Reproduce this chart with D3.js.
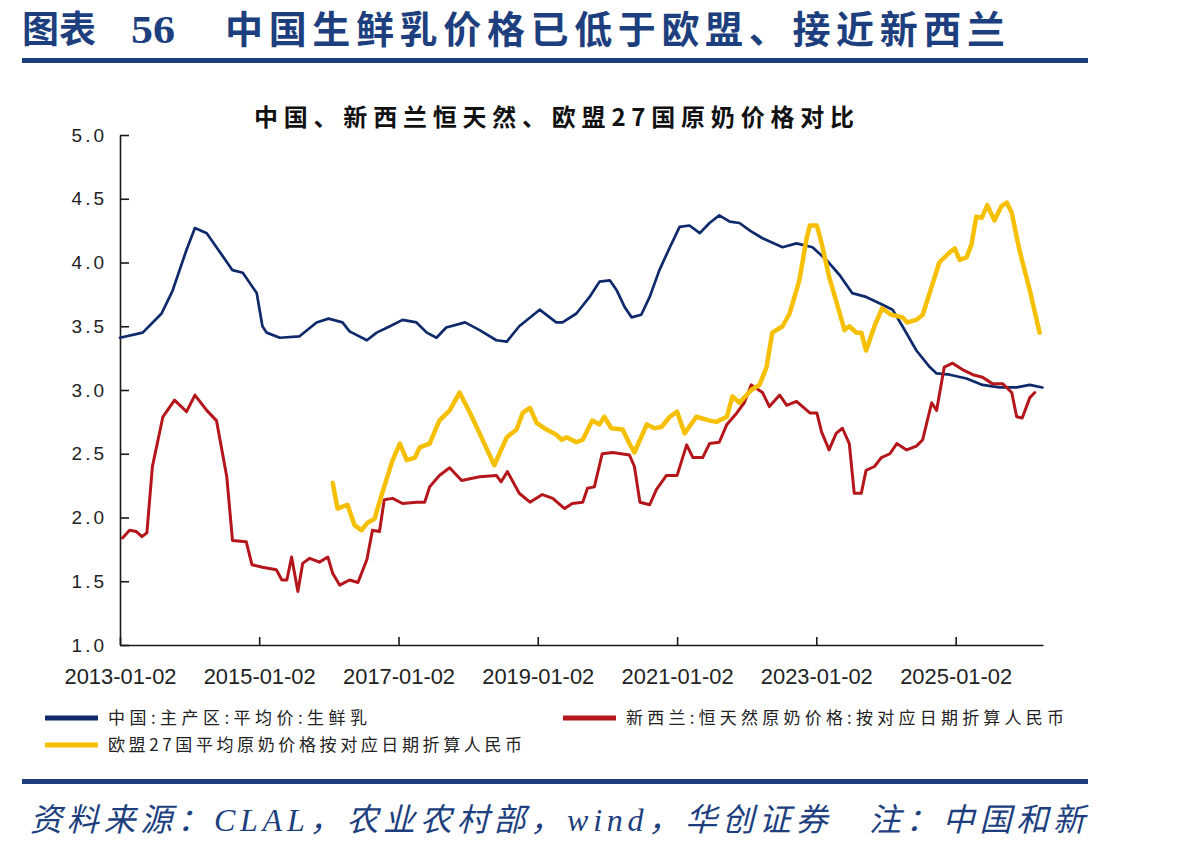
<!DOCTYPE html>
<html>
<head>
<meta charset="utf-8">
<script src="https://cdn.jsdelivr.net/npm/d3@7"></script>
<style>
  body { margin: 0; background: #fff; }
  svg { display: block; }
  .axis path, .axis line { stroke: #1a1a1a; stroke-width: 1.6; }
  .axis text { font-family: "Liberation Sans", Arial, sans-serif; fill: #222; }
</style>
</head>
<body>
<svg id="chart" width="1198" height="849"></svg>
<script>
// China: main production area average raw milk price (yuan/kg)
const chinaRaw = [
  ["2013-01-02",3.41],["2013-05-01",3.45],["2013-08-08",3.60],["2013-10-05",3.78],["2013-12-17",4.10],
  ["2014-01-30",4.27],["2014-04-02",4.23],["2014-05-23",4.12],["2014-08-15",3.94],["2014-10-08",3.92],
  ["2014-12-20",3.76],["2015-01-19",3.50],["2015-02-10",3.45],["2015-04-20",3.41],["2015-07-31",3.42],
  ["2015-10-30",3.53],["2016-01-01",3.56],["2016-03-14",3.53],["2016-04-20",3.46],["2016-07-20",3.39],
  ["2016-09-09",3.45],["2016-11-18",3.50],["2017-01-23",3.55],["2017-04-06",3.53],["2017-05-30",3.45],
  ["2017-07-20",3.41],["2017-09-09",3.49],["2017-12-17",3.53],["2018-03-03",3.47],["2018-05-30",3.39],
  ["2018-07-24",3.38],["2018-09-27",3.50],["2019-01-12",3.63],["2019-04-09",3.53],["2019-05-12",3.53],
  ["2019-07-24",3.60],["2019-10-01",3.73],["2019-11-22",3.85],["2020-01-15",3.86],["2020-02-21",3.78],
  ["2020-04-02",3.65],["2020-05-08",3.57],["2020-06-28",3.59],["2020-08-11",3.73],["2020-10-01",3.94],
  ["2020-11-25",4.12],["2021-01-15",4.28],["2021-03-08",4.29],["2021-05-01",4.23],["2021-06-21",4.31],
  ["2021-08-11",4.37],["2021-10-05",4.32],["2021-11-25",4.31],["2022-01-19",4.25],["2022-03-26",4.19],
  ["2022-07-09",4.12],["2022-09-20",4.15],["2022-12-13",4.12],["2023-02-24",4.02],["2023-05-05",3.90],
  ["2023-07-09",3.76],["2023-09-20",3.73],["2023-12-13",3.67],["2024-02-06",3.63],["2024-03-29",3.50],
  ["2024-06-10",3.31],["2024-08-19",3.18],["2024-09-24",3.13],["2024-12-02",3.12],["2025-02-28",3.09],
  ["2025-05-23",3.04],["2025-08-19",3.02],["2025-11-18",3.02],["2026-01-26",3.04],["2026-04-02",3.02]
];

// New Zealand Fonterra raw milk price, converted to RMB
const nzRaw = [
  ["2013-01-15",1.84],["2013-02-21",1.90],["2013-03-29",1.89],["2013-04-27",1.85],["2013-05-23",1.88],
  ["2013-06-21",2.40],["2013-08-15",2.79],["2013-10-15",2.92],["2013-12-17",2.83],["2014-01-30",2.96],
  ["2014-04-02",2.84],["2014-05-23",2.76],["2014-07-16",2.32],["2014-08-15",1.82],["2014-10-26",1.81],
  ["2014-11-25",1.63],["2015-01-19",1.61],["2015-04-02",1.59],["2015-05-01",1.51],["2015-05-27",1.51],
  ["2015-06-21",1.69],["2015-07-24",1.42],["2015-08-18",1.64],["2015-09-24",1.68],["2015-11-14",1.65],
  ["2015-12-28",1.69],["2016-01-23",1.56],["2016-02-28",1.47],["2016-04-20",1.51],["2016-06-03",1.49],
  ["2016-07-20",1.67],["2016-08-18",1.90],["2016-09-24",1.89],["2016-10-19",2.14],["2016-12-02",2.15],
  ["2017-01-23",2.11],["2017-04-06",2.12],["2017-05-19",2.12],["2017-06-14",2.24],["2017-08-04",2.33],
  ["2017-09-27",2.39],["2017-11-29",2.29],["2018-03-03",2.32],["2018-05-30",2.33],["2018-06-24",2.28],
  ["2018-07-27",2.36],["2018-09-27",2.19],["2018-11-22",2.12],["2019-01-26",2.18],["2019-03-22",2.15],
  ["2019-05-23",2.07],["2019-07-02",2.11],["2019-08-26",2.12],["2019-09-20",2.23],["2019-10-26",2.24],
  ["2019-12-06",2.50],["2020-01-30",2.51],["2020-04-27",2.49],["2020-05-23",2.40],["2020-06-21",2.12],
  ["2020-08-11",2.10],["2020-09-16",2.22],["2020-11-07",2.33],["2021-01-02",2.33],["2021-02-21",2.57],
  ["2021-03-26",2.47],["2021-05-16",2.47],["2021-06-21",2.58],["2021-08-11",2.59],["2021-09-20",2.73],
  ["2021-11-11",2.82],["2021-12-20",2.90],["2022-01-26",3.04],["2022-03-26",2.98],["2022-05-01",2.87],
  ["2022-06-24",2.96],["2022-07-31",2.88],["2022-09-20",2.91],["2022-11-29",2.82],["2023-01-05",2.82],
  ["2023-01-30",2.67],["2023-03-10",2.53],["2023-04-16",2.66],["2023-05-19",2.70],["2023-06-24",2.58],
  ["2023-07-20",2.19],["2023-08-26",2.19],["2023-09-20",2.37],["2023-11-03",2.40],["2023-12-09",2.47],
  ["2024-01-23",2.50],["2024-02-28",2.58],["2024-04-20",2.53],["2024-06-10",2.56],["2024-07-13",2.61],
  ["2024-08-29",2.90],["2024-09-24",2.84],["2024-11-03",3.18],["2024-12-17",3.21],["2025-02-06",3.16],
  ["2025-04-02",3.12],["2025-05-23",3.10],["2025-07-13",3.05],["2025-09-05",3.05],["2025-10-23",2.98],
  ["2025-11-18",2.79],["2025-12-17",2.78],["2026-01-26",2.94],["2026-02-21",2.98]
];

// EU-27 average raw milk price, converted to RMB
const euRaw = [
  ["2016-01-23",2.27],["2016-02-17",2.07],["2016-04-09",2.10],["2016-05-16",1.94],["2016-06-21",1.90],
  ["2016-07-24",1.96],["2016-08-29",1.99],["2016-10-12",2.21],["2016-12-02",2.45],["2017-01-09",2.58],
  ["2017-02-14",2.45],["2017-03-29",2.47],["2017-04-23",2.55],["2017-06-14",2.58],["2017-08-04",2.76],
  ["2017-09-27",2.84],["2017-11-18",2.98],["2018-01-12",2.82],["2018-03-03",2.66],["2018-05-19",2.41],
  ["2018-07-24",2.63],["2018-09-13",2.69],["2018-10-15",2.82],["2018-11-22",2.86],["2018-12-28",2.74],
  ["2019-02-17",2.69],["2019-04-09",2.65],["2019-05-08",2.61],["2019-06-03",2.63],["2019-07-24",2.59],
  ["2019-08-26",2.61],["2019-10-15",2.76],["2019-11-22",2.73],["2019-12-17",2.79],["2020-01-23",2.70],
  ["2020-03-22",2.69],["2020-04-27",2.58],["2020-05-23",2.51],["2020-07-27",2.73],["2020-09-05",2.70],
  ["2020-10-12",2.71],["2020-11-25",2.79],["2021-01-02",2.83],["2021-02-10",2.66],["2021-04-13",2.79],
  ["2021-06-21",2.76],["2021-07-27",2.75],["2021-09-20",2.79],["2021-10-19",2.95],["2021-11-25",2.90],
  ["2022-01-26",3.00],["2022-03-10",3.04],["2022-04-16",3.18],["2022-05-16",3.45],["2022-07-09",3.50],
  ["2022-08-15",3.60],["2022-10-05",3.86],["2022-11-11",4.18],["2022-11-29",4.29],["2023-01-05",4.29],
  ["2023-01-30",4.15],["2023-03-10",3.89],["2023-05-05",3.60],["2023-05-30",3.47],["2023-06-24",3.50],
  ["2023-07-31",3.45],["2023-08-26",3.45],["2023-09-20",3.31],["2023-11-03",3.50],["2023-12-13",3.64],
  ["2024-01-30",3.59],["2024-03-29",3.57],["2024-04-23",3.53],["2024-06-10",3.55],["2024-07-13",3.59],
  ["2024-08-29",3.81],["2024-10-08",4.00],["2024-12-02",4.08],["2024-12-28",4.11],["2025-01-23",4.02],
  ["2025-02-28",4.04],["2025-03-26",4.14],["2025-04-20",4.36],["2025-05-19",4.35],["2025-06-17",4.45],
  ["2025-07-24",4.33],["2025-08-29",4.44],["2025-09-27",4.47],["2025-10-23",4.39],["2025-12-02",4.10],
  ["2026-01-26",3.78],["2026-03-18",3.45]
];

const xTickDates = ["2013-01-02","2015-01-02","2017-01-02","2019-01-02","2021-01-02","2023-01-02","2025-01-02"];
const yTicks = [1.0, 1.5, 2.0, 2.5, 3.0, 3.5, 4.0, 4.5, 5.0];

const seriesNames = [
  "中国:主产区:平均价:生鲜乳",
  "新西兰:恒天然原奶价格:按对应日期折算人民币",
  "欧盟27国平均原奶价格按对应日期折算人民币"
];
const seriesColors = ["#0f2a6b", "#b4161b", "#f6c000"];

const parse = d3.timeParse("%Y-%m-%d");
const toPoints = raw => raw.map(([d, v]) => ({ date: parse(d), value: v }));
const series = [toPoints(chinaRaw), toPoints(nzRaw), toPoints(euRaw)];

const svg = d3.select("#chart");
const plotLeft = 120, plotRight = 1043, plotTop = 135, plotBottom = 645;

const x = d3.scaleTime().domain([parse("2013-01-02"), parse("2026-04-05")]).range([plotLeft, plotRight]);
const y = d3.scaleLinear().domain([1, 5]).range([plotBottom, plotTop]);

// Header
const blue = "#1d3f7e";
const header = svg.append("g").attr("fill", blue).attr("font-weight", 700);
header.append("text").attr("x", 22).attr("y", 43)
  .attr("font-family", "'Noto Sans CJK SC', sans-serif").attr("font-size", 37)
  .attr("textLength", 74).attr("lengthAdjust", "spacingAndGlyphs").text("图表");
header.append("text").attr("x", 131).attr("y", 43)
  .attr("font-family", "'Liberation Serif', serif").attr("font-size", 40)
  .attr("textLength", 44).attr("lengthAdjust", "spacingAndGlyphs").text("56");
header.append("text").attr("x", 225).attr("y", 43)
  .attr("font-family", "'Noto Sans CJK SC', sans-serif").attr("font-size", 38)
  .attr("textLength", 780).attr("lengthAdjust", "spacing").text("中国生鲜乳价格已低于欧盟、接近新西兰");
svg.append("rect").attr("x", 22).attr("y", 58).attr("width", 1066).attr("height", 5).attr("fill", blue);

// Chart title
svg.append("text").attr("x", 254).attr("y", 126)
  .attr("font-family", "'Noto Sans CJK SC', sans-serif").attr("font-weight", 700).attr("font-size", 24)
  .attr("fill", "#111").attr("textLength", 600).attr("lengthAdjust", "spacing")
  .text("中国、新西兰恒天然、欧盟27国原奶价格对比");

// Axes
const yAxis = svg.append("g").attr("class", "axis").attr("transform", `translate(${plotLeft},0)`)
  .call(d3.axisLeft(y).tickValues(yTicks).tickFormat(d3.format(".1f")).tickSizeInner(-9).tickSizeOuter(0).tickPadding(13));
yAxis.selectAll("text").attr("font-size", 19).attr("letter-spacing", 3);

const xAxis = svg.append("g").attr("class", "axis").attr("transform", `translate(0,${plotBottom})`)
  .call(d3.axisBottom(x).tickValues(xTickDates.map(parse)).tickFormat(d3.timeFormat("%Y-%m-%d"))
    .tickSizeInner(-8).tickSizeOuter(0).tickPadding(23));
xAxis.selectAll("text").attr("font-size", 22).attr("textLength", 112).attr("lengthAdjust", "spacingAndGlyphs");

// Lines
const line = d3.line().x(d => x(d.date)).y(d => y(d.value));
const widths = [2.7, 3, 4.5];
series.forEach((pts, i) => {
  svg.append("path").datum(pts)
    .attr("fill", "none").attr("stroke", seriesColors[i]).attr("stroke-width", widths[i])
    .attr("stroke-linejoin", "round").attr("stroke-linecap", "round")
    .attr("d", line);
});

// Legend
const legendItems = [
  { x: 45, y: 718, len: 259 },
  { x: 563, y: 718, len: 438 },
  { x: 45, y: 745, len: 414 }
];
legendItems.forEach((it, i) => {
  svg.append("line").attr("x1", it.x).attr("x2", it.x + 53).attr("y1", it.y).attr("y2", it.y)
    .attr("stroke", seriesColors[i]).attr("stroke-width", 5);
  svg.append("text").attr("x", it.x + 63).attr("y", it.y + 6)
    .attr("font-family", "'Noto Sans CJK SC', sans-serif").attr("font-size", 17).attr("fill", "#222")
    .attr("textLength", it.len).attr("lengthAdjust", "spacing").text(seriesNames[i]);
});

// Footer
svg.append("rect").attr("x", 22).attr("y", 779).attr("width", 1066).attr("height", 5).attr("fill", blue);
svg.append("text").attr("x", 30).attr("y", 831)
  .attr("font-family", "'Liberation Serif', 'Noto Sans CJK SC', serif").attr("font-style", "italic")
  .attr("font-size", 32).attr("fill", blue).attr("textLength", 1055).attr("lengthAdjust", "spacing")
  .text("资料来源：CLAL，农业农村部，wind，华创证券　注：中国和新");
</script>
</body>
</html>
